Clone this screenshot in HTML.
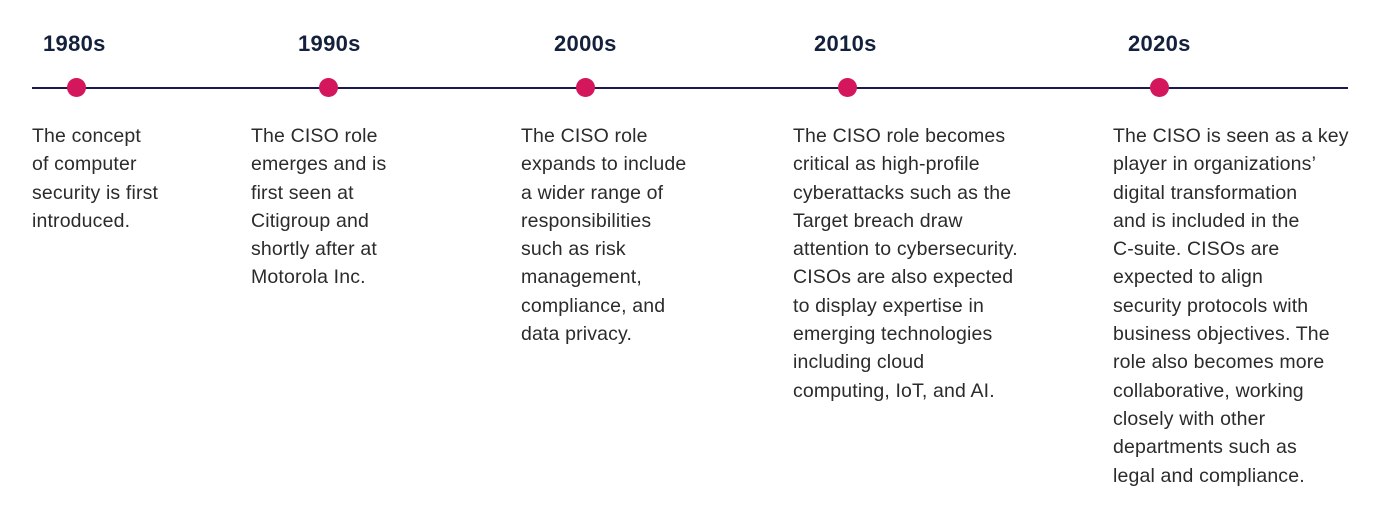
<!DOCTYPE html>
<html><head><meta charset="utf-8"><style>
body{margin:0;width:1386px;height:526px;background:#fff;position:relative;overflow:hidden;font-family:"Liberation Sans",sans-serif}
.h{position:absolute;top:31px;font-size:22px;font-weight:bold;color:#14213d;white-space:nowrap;letter-spacing:0.3px}
.line{position:absolute;left:32px;width:1316px;top:87px;height:2px;background:#1c1850}
.dot{position:absolute;top:78px;width:19px;height:19px;border-radius:50%;background:#d4175c}
.t{position:absolute;top:122px;font-size:19.5px;line-height:28.3px;color:#2b2b2b;white-space:nowrap;letter-spacing:0.15px}
</style></head><body>
<div class="h" style="left:43px">1980s</div>
<div class="h" style="left:298px">1990s</div>
<div class="h" style="left:554px">2000s</div>
<div class="h" style="left:814px">2010s</div>
<div class="h" style="left:1128px">2020s</div>
<div class="line"></div>
<div class="dot" style="left:67px"></div>
<div class="dot" style="left:319px"></div>
<div class="dot" style="left:576px"></div>
<div class="dot" style="left:838px"></div>
<div class="dot" style="left:1150px"></div>
<div class="t" style="left:32px">The concept<br>of computer<br>security is first<br>introduced.</div>
<div class="t" style="left:251px">The CISO role<br>emerges and is<br>first seen at<br>Citigroup and<br>shortly after at<br>Motorola Inc.</div>
<div class="t" style="left:521px">The CISO role<br>expands to include<br>a wider range of<br>responsibilities<br>such as risk<br>management,<br>compliance, and<br>data privacy.</div>
<div class="t" style="left:793px">The CISO role becomes<br>critical as high-profile<br>cyberattacks such as the<br>Target breach draw<br>attention to cybersecurity.<br>CISOs are also expected<br>to display expertise in<br>emerging technologies<br>including cloud<br>computing, IoT, and AI.</div>
<div class="t" style="left:1113px">The CISO is seen as a key<br>player in organizations’<br>digital transformation<br>and is included in the<br>C-suite. CISOs are<br>expected to align<br>security protocols with<br>business objectives. The<br>role also becomes more<br>collaborative, working<br>closely with other<br>departments such as<br>legal and compliance.</div>
</body></html>
